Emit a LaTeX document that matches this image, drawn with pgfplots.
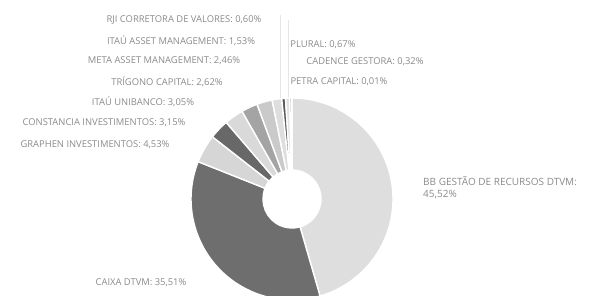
\documentclass[border=0pt]{standalone}
\usepackage{pgfplots}
\pgfplotsset{compat=1.18}
\usepackage{pgfplotstable}
\usepackage{fontspec}
\setmainfont{Open Sans}
\definecolor{cBB}{HTML}{DEDEDE}
\definecolor{cCX}{HTML}{6E6E6E}
\definecolor{cGR}{HTML}{D6D6D6}
\definecolor{cCO}{HTML}{686868}
\definecolor{cIU}{HTML}{D9D9D9}
\definecolor{cTR}{HTML}{A4A4A4}
\definecolor{cME}{HTML}{CACACA}
\definecolor{cIA}{HTML}{DEDEDE}
\definecolor{cRJ}{HTML}{5A5A5A}
\definecolor{cPL}{HTML}{E2E2E2}
\definecolor{cCA}{HTML}{BDBDBD}
\definecolor{cPE}{HTML}{999999}
\definecolor{lbl}{HTML}{8A8A8A}
\definecolor{lead}{HTML}{E6E6E6}
\pgfplotstableread{
value color
45.52 cBB
35.51 cCX
4.53 cGR
3.15 cCO
3.05 cIU
2.62 cTR
2.46 cME
1.53 cIA
0.60 cRJ
0.67 cPL
0.32 cCA
0.01 cPE
}\shares
\begin{document}
\begin{tikzpicture}
\begin{axis}[
  width=593pt, height=295pt, scale only axis,
  xmin=0, xmax=593, ymin=0, ymax=295,
  hide axis, clip=true,
]
\draw[lead,line width=0.5pt] (axis cs:280,280) -- (axis cs:280,196);
\draw[lead,line width=0.5pt] (axis cs:288,275) -- (axis cs:288,196);
\def\cum{0}
\pgfplotsforeachungrouped \i in {0,...,11} {
  \pgfplotstablegetelem{\i}{value}\of\shares \let\v\pgfplotsretval
  \pgfplotstablegetelem{\i}{color}\of\shares \let\c\pgfplotsretval
  \pgfmathsetmacro\aA{90-\cum*3.6}
  \pgfmathsetmacro\cum{\cum+\v}
  \pgfmathsetmacro\aB{90-\cum*3.6}
  \edef\temp{\noexpand\fill[fill=\c,draw=white,line width=1.4pt,line join=round,shift={(axis cs:292,96)}]
    (\aA:101pt) arc[start angle=\aA,end angle=\aB,radius=101pt]
    -- (\aB:29pt) arc[start angle=\aB,end angle=\aA,radius=29pt] -- cycle;}
  \temp
}
\tikzset{lab/.style={anchor=center,inner sep=0pt,text=lbl,font=\fontsize{9.4}{12}\selectfont}}
\node[lab] at (axis cs:184,275) {RJI CORRETORA DE VALORES: 0,60\%};
\node[lab] at (axis cs:181,254) {ITAÚ ASSET MANAGEMENT: 1,53\%};
\node[lab] at (axis cs:164,234) {META ASSET MANAGEMENT: 2,46\%};
\node[lab] at (axis cs:167,213) {TRÍGONO CAPITAL: 2,62\%};
\node[lab] at (axis cs:143,193) {ITAÚ UNIBANCO: 3,05\%};
\node[lab] at (axis cs:104,172) {CONSTANCIA INVESTIMENTOS: 3,15\%};
\node[lab] at (axis cs:95,150) {GRAPHEN INVESTIMENTOS: 4,53\%};
\node[lab] at (axis cs:323,250) {PLURAL: 0,67\%};
\node[lab] at (axis cs:365,233) {CADENCE GESTORA: 0,32\%};
\node[lab] at (axis cs:339,213) {PETRA CAPITAL: 0,01\%};
\node[lab,anchor=west,align=left,font=\fontsize{10}{12}\selectfont] at (axis cs:423,107) {BB GESTÃO DE RECURSOS DTVM:\\45,52\%};
\node[lab] at (axis cs:141,12) {CAIXA DTVM: 35,51\%};
\end{axis}
\pgfresetboundingbox
\path[use as bounding box] (0,0) rectangle (593pt,295pt);
\end{tikzpicture}
\end{document}
